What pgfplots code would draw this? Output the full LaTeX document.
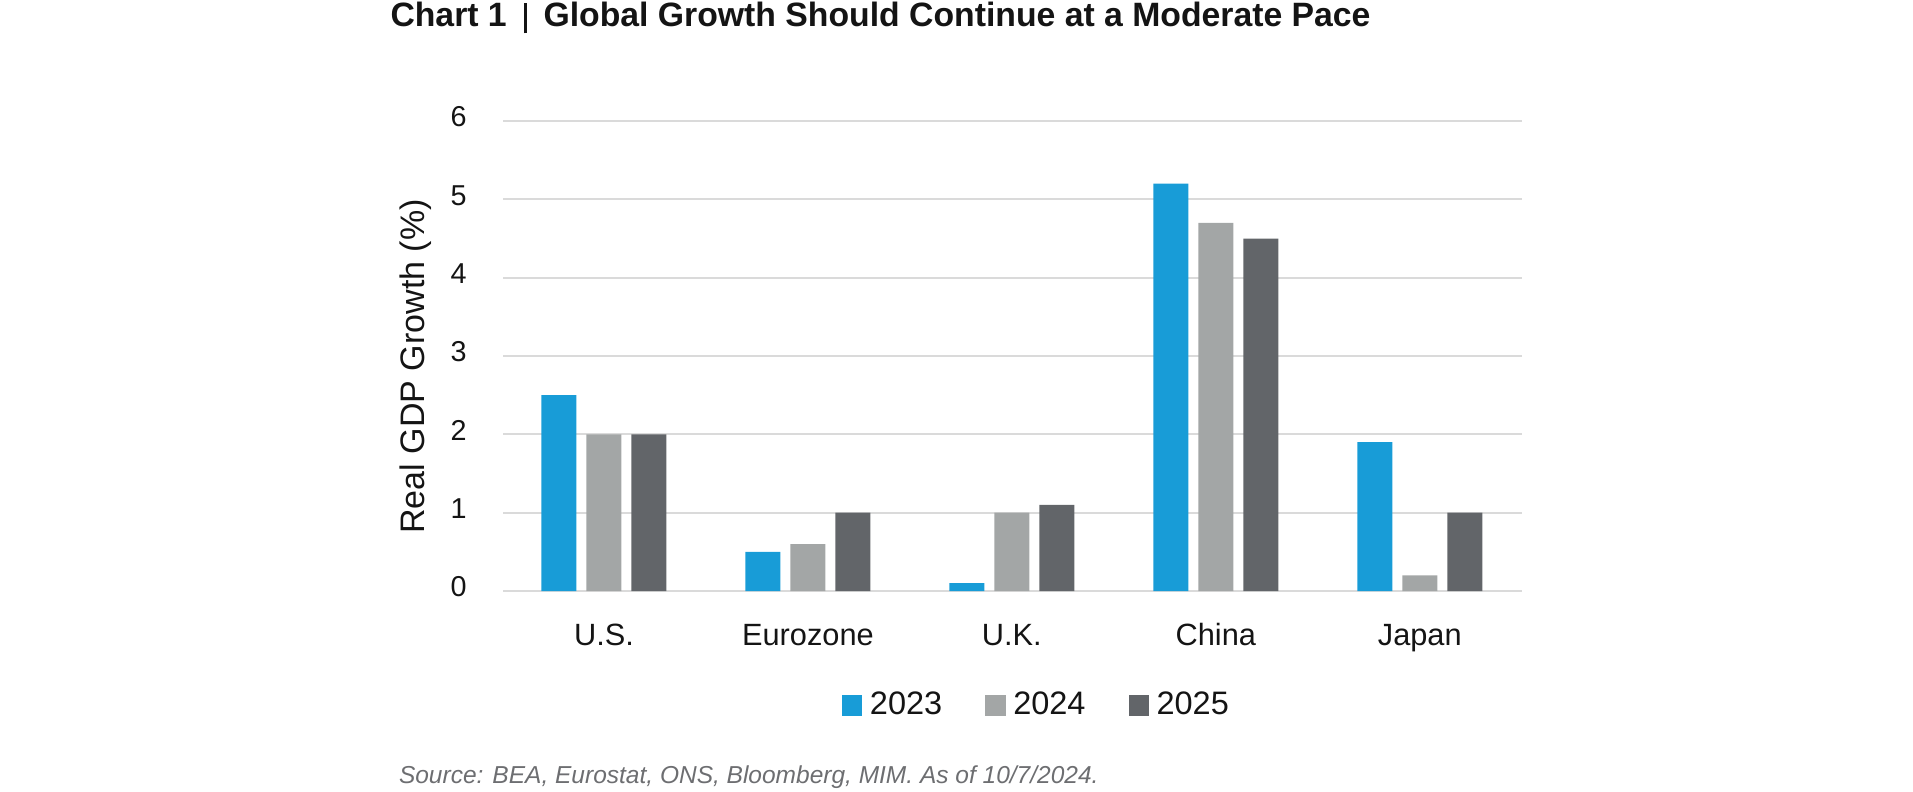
\documentclass[border=0pt]{standalone}
\usepackage{fontspec}
\setmainfont{Liberation Sans}
\usepackage{pgfplots}
\pgfplotsset{compat=1.18}
\definecolor{c23}{HTML}{189CD7}
\definecolor{c24}{HTML}{A3A6A6}
\definecolor{c25}{HTML}{626569}
\definecolor{gridc}{HTML}{DADADA}
\definecolor{srcc}{HTML}{6D6E71}
\definecolor{txt}{HTML}{141414}
\begin{document}
\begin{tikzpicture}
\path[use as bounding box] (0pt,0pt) rectangle (765.2pt,-316.4pt);
\node[anchor=base west, inner sep=0pt, text=txt, font=\bfseries\fontsize{13.5}{15}\selectfont] at (156pt,-10.7pt)
  {Chart 1\hspace{7pt}\rule[-2.6pt]{1.2pt}{12pt}\hspace{6.5pt}Global Growth Should Continue at a Moderate Pace};
\begin{axis}[
  at={(201.2pt,-236.4pt)}, anchor=south west,
  scale only axis, width=407.5pt, height=188pt,
  ybar, bar width=14pt,
  xmin=-0.495, xmax=4.5, ymin=0, ymax=6,
  xtick={0,1,2,3,4}, xticklabels={U.S.,Eurozone,U.K.,China,Japan},
  ytick={0,1,2,3,4,5,6},
  axis line style={draw=none},
  major tick length=0pt,
  ymajorgrids, grid style={gridc, line width=0.9pt},
  /pgf/number format/assume math mode=true,
  yticklabel style={anchor=east, inner sep=0pt, xshift=-14.4pt, yshift=1.6pt, text=txt, font=\fontsize{11.5}{13}\selectfont},
  xticklabel style={anchor=base, inner sep=0pt, yshift=-21.9pt, text=txt, font=\fontsize{12.3}{14}\selectfont},
  ylabel={Real GDP Growth (\%)},
  ylabel style={at={(axis description cs:-0.0766,0.478)}, anchor=base, text=txt, font=\fontsize{13.6}{16}\selectfont},
  legend style={at={(axis description cs:0.3327,-0.2434)}, anchor=west, draw=none, fill=none,
    inner sep=0pt, outer sep=0pt, nodes={inner sep=3pt, text=txt}, font=\fontsize{13}{15}\selectfont,
    /tikz/every even column/.append style={column sep=14.2pt}},
  legend columns=-1,
  myleg/.style={legend image code/.code={\fill[##1] (0pt,-4.1pt) rectangle (8.2pt,4.1pt);}},
]
\addplot[fill=c23, draw=none, bar shift=-18pt, myleg] coordinates {(0,2.5) (1,0.5) (2,0.1) (3,5.2) (4,1.9)};
\addplot[fill=c24, draw=none, bar shift=0pt, myleg] coordinates {(0,2.0) (1,0.6) (2,1.0) (3,4.7) (4,0.2)};
\addplot[fill=c25, draw=none, bar shift=18pt, myleg] coordinates {(0,2.0) (1,1.0) (2,1.1) (3,4.5) (4,1.0)};
\legend{2023,2024,2025}
\end{axis}
\node[anchor=base west, inner sep=0pt, text=srcc, font=\itshape\fontsize{9.8}{11}\selectfont] at (159.4pt,-313.3pt)
  {Source: BEA, Eurostat, ONS, Bloomberg, MIM. As of 10/7/2024.};
\end{tikzpicture}
\end{document}
